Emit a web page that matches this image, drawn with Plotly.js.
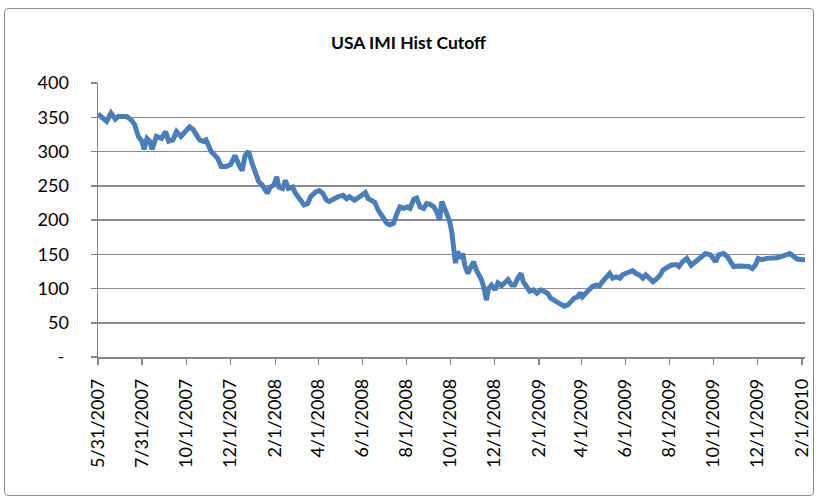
<!DOCTYPE html>
<html>
<head>
<meta charset="utf-8">
<script src="https://cdn.plot.ly/plotly-3.0.1.min.js"></script>
<style>
  html, body { margin: 0; padding: 0; background: #fff; }
  #chart { position: absolute; left: 0; top: 0; width: 817px; height: 500px; }
  #frame { position: absolute; left: 4px; top: 8px; width: 808px; height: 486px;
           border: 1px solid #8c8c8c; border-radius: 4px; pointer-events: none; }
</style>
</head>
<body>
<div id="chart"></div>
<div id="frame"></div>
<script>
const chartTitle = "USA IMI Hist Cutoff";

const dates = [
  "2007-05-31","2007-06-05","2007-06-12","2007-06-18","2007-06-24","2007-06-28","2007-07-05","2007-07-10",
  "2007-07-17","2007-07-21","2007-07-26","2007-07-31","2007-08-03","2007-08-07","2007-08-11","2007-08-14",
  "2007-08-20","2007-08-27","2007-09-02","2007-09-06","2007-09-12","2007-09-17","2007-09-23","2007-09-28",
  "2007-10-05","2007-10-10","2007-10-14","2007-10-19","2007-10-24","2007-10-28","2007-11-04","2007-11-09",
  "2007-11-13","2007-11-18","2007-11-25","2007-12-01","2007-12-05","2007-12-07","2007-12-12","2007-12-17",
  "2007-12-21","2007-12-26","2007-12-31","2008-01-04","2008-01-09","2008-01-14","2008-01-21","2008-01-25",
  "2008-01-30","2008-02-03","2008-02-06","2008-02-11","2008-02-15","2008-02-19","2008-02-25","2008-02-29",
  "2008-03-06","2008-03-12","2008-03-17","2008-03-21","2008-03-28","2008-04-02","2008-04-07","2008-04-12",
  "2008-04-16","2008-04-22","2008-04-28","2008-05-05","2008-05-10","2008-05-14","2008-05-21","2008-05-28",
  "2008-06-05","2008-06-09","2008-06-14","2008-06-18","2008-06-23","2008-06-28","2008-07-05","2008-07-09",
  "2008-07-14","2008-07-19","2008-07-23","2008-07-28","2008-08-02","2008-08-06","2008-08-11","2008-08-15",
  "2008-08-20","2008-08-25","2008-08-29","2008-09-03","2008-09-08","2008-09-12","2008-09-16","2008-09-19",
  "2008-09-23","2008-09-26","2008-09-30","2008-10-03","2008-10-06","2008-10-08","2008-10-11","2008-10-15",
  "2008-10-18","2008-10-21","2008-10-25","2008-10-30","2008-11-02","2008-11-06","2008-11-09","2008-11-13",
  "2008-11-16","2008-11-20","2008-11-23","2008-11-27","2008-12-02","2008-12-06","2008-12-11","2008-12-15",
  "2008-12-20","2008-12-25","2008-12-29","2009-01-03","2009-01-07","2009-01-10","2009-01-15","2009-01-19",
  "2009-01-24","2009-01-29","2009-02-04","2009-02-08","2009-02-13","2009-02-17","2009-02-22","2009-02-27",
  "2009-03-03","2009-03-08","2009-03-13","2009-03-17","2009-03-22","2009-03-27","2009-03-30","2009-04-02",
  "2009-04-07","2009-04-12","2009-04-16","2009-04-21","2009-04-26","2009-04-30","2009-05-05","2009-05-10",
  "2009-05-14","2009-05-19","2009-05-24","2009-05-28","2009-06-01","2009-06-06","2009-06-11","2009-06-15",
  "2009-06-20","2009-06-25","2009-06-29","2009-07-04","2009-07-09","2009-07-13","2009-07-18","2009-07-23",
  "2009-07-30","2009-08-03","2009-08-10","2009-08-14","2009-08-19","2009-08-25","2009-08-31","2009-09-06",
  "2009-09-13","2009-09-20","2009-09-27","2009-10-04","2009-10-08","2009-10-15","2009-10-20","2009-10-25",
  "2009-10-29","2009-11-05","2009-11-12","2009-11-19","2009-11-24","2009-11-28","2009-12-02","2009-12-07",
  "2009-12-14","2009-12-21","2009-12-28","2010-01-04","2010-01-11","2010-01-15","2010-01-20","2010-01-25",
  "2010-02-01","2010-02-05"
];

const cutoff = [
  355,351,344,356,347,351,352,351,
  345,339,322,315,303,319,315,303,
  322,319,329,315,317,329,322,329,
  336,332,324,317,315,317,300,293,
  290,278,278,281,288,294,282,272,
  294,300,282,268,256,251,239,248,
  251,263,248,246,258,246,248,239,
  229,222,224,234,241,243,239,229,
  227,231,234,236,231,234,229,234,
  240,231,229,226,214,205,195,193,
  195,210,219,217,219,217,230,232,
  219,217,224,223,219,212,200,227,
  215,205,198,181,161,137,154,144,
  151,134,122,132,139,127,122,113,
  103,83,100,105,98,108,104,108,
  113,105,105,116,122,110,103,96,
  98,93,98,96,93,86,83,79,
  76,74,76,81,86,88,94,88,
  93,99,103,105,104,110,115,122,
  115,117,115,120,122,125,126,122,
  120,115,120,115,110,113,118,127,
  132,134,135,132,139,144,134,139,
  147,151,149,139,149,151,147,137,
  132,133,132,132,129,134,144,142,
  144,144,145,147,149,151,147,143,
  142,142
];

const xTickVals = ["2007-05-31","2007-07-31","2007-10-01","2007-12-01","2008-02-01","2008-04-01",
  "2008-06-01","2008-08-01","2008-10-01","2008-12-01","2009-02-01","2009-04-01","2009-06-01",
  "2009-08-01","2009-10-01","2009-12-01","2010-02-01"];
const xTickText = ["5/31/2007","7/31/2007","10/1/2007","12/1/2007","2/1/2008","4/1/2008",
  "6/1/2008","8/1/2008","10/1/2008","12/1/2008","2/1/2009","4/1/2009","6/1/2009",
  "8/1/2009","10/1/2009","12/1/2009","2/1/2010"];
const yTickVals = [0,50,100,150,200,250,300,350,400];
const yTickText = ["-\u00a0","50","100","150","200","250","300","350","400"];

const trace = {
  x: dates, y: cutoff, type: "scatter", mode: "lines",
  line: { color: "#4a7ebb", width: 5 },
  hoverinfo: "x+y"
};

const layout = {
  width: 817, height: 500,
  margin: { l: 98, r: 12, t: 83, b: 143, pad: 0 },
  paper_bgcolor: "rgba(0,0,0,0)", plot_bgcolor: "#fff",
  font: { family: "Lato, 'Open Sans', sans-serif", size: 18, color: "#000" },
  title: { text: chartTitle, font: { family: "Lato, 'Open Sans', sans-serif", size: 17.5, weight: "bold", color: "#000" },
           x: 0.5, xref: "container", xanchor: "center", y: 0.914, yref: "container", yanchor: "middle" },
  showlegend: false,
  xaxis: {
    type: "date", range: ["2007-05-31", "2010-02-05"],
    tickmode: "array", tickvals: xTickVals, ticktext: xTickText, tickangle: -90,
    ticks: "outside", ticklen: 6, tickwidth: 1.5, tickcolor: "#868686",
    showline: true, linecolor: "#868686", linewidth: 1.5,
    showgrid: false, zeroline: false, ticklabelstandoff: 7
  },
  yaxis: {
    range: [0, 400], tickmode: "array", tickvals: yTickVals, ticktext: yTickText,
    ticks: "outside", ticklen: 6, tickwidth: 1.5, tickcolor: "#868686",
    showline: true, linecolor: "#868686", linewidth: 1.5,
    showgrid: true, gridcolor: "#8c8c8c", gridwidth: 1.5, zeroline: false,
    ticklabelstandoff: 18
  }
};

Plotly.newPlot("chart", [trace], layout, { displayModeBar: false, staticPlot: true });
</script>
</body>
</html>
